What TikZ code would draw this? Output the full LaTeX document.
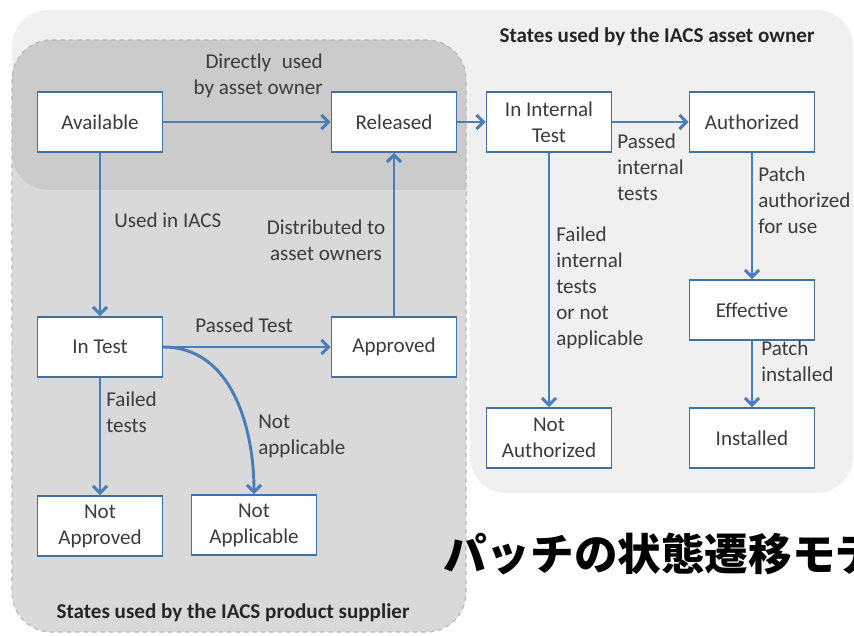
\documentclass[tikz,border=0pt]{standalone}
\usepackage{fontspec}
\setmainfont{Carlito}
\newfontfamily\jpfont{Noto Sans CJK JP}
\usepackage{tikz}
\usetikzlibrary{arrows.meta}
\usetikzlibrary{positioning}
\definecolor{patchblue}{RGB}{74,126,187}
\definecolor{boxblue}{RGB}{65,113,163}
\definecolor{patchtext}{RGB}{60,60,60}
\definecolor{ownergrey}{RGB}{240,240,240}
\definecolor{suppliergrey}{RGB}{217,217,217}
\definecolor{overlapgrey}{RGB}{203,203,203}
\definecolor{edgegrey}{RGB}{185,185,185}
\tikzset{
  statebox/.style={draw=boxblue, fill=white, line width=1.3pt, minimum width=3.125cm,
    minimum height=1.5cm, align=center, inner sep=2pt, text=patchtext,
    font=\fontsize{15}{18.4}\selectfont},
  flow/.style={draw=patchblue, line width=2.1pt, -{Straight Barb[length=5pt,width=10pt]}},
  lbl/.style={text=patchtext, inner sep=0pt, align=left, font=\fontsize{15}{18.4}\selectfont},
  regiontitle/.style={text=black!85, inner sep=0pt, font=\fontsize{15}{18}\selectfont\bfseries}
}

\begin{document}
\begin{tikzpicture}[x=0.025cm, y=-0.025cm]
  \useasboundingbox (0,0) rectangle (854,636);

  % asset owner and supplier regions
  \fill[ownergrey, rounded corners=26]
    (12,10) -- (853,10) -- (853,493) -- (470,493) -- (470,190) [sharp corners] -- (12,190)
    [rounded corners=26] -- cycle;
  \fill[suppliergrey, rounded corners=28] (12,40) rectangle (466,632);
  \begin{scope}
    \clip[rounded corners=28] (12,40) rectangle (466,632);
    \fill[overlapgrey, rounded corners=26] (12,0) rectangle (520,190);
  \end{scope}
  \draw[draw=edgegrey, dashed, line width=0.8pt, rounded corners=28] (12,40) rectangle (466,632);
  \node[regiontitle] (ownertitle) at (657,37) {States used by the IACS asset owner};
  \node[regiontitle] (suppliertitle) at (233,613) {States used by the IACS product supplier};

  % states
  \node[statebox] (avail) at (100,122) {Available};
  \node[statebox] (released) at (394,122) {Released};
  \node[statebox] (intest) at (100,347) {In Test};
  \node[statebox] (approved) at (394,347) {Approved};
  \node[statebox] (notapproved) at (100,526) {Not\\Approved};
  \node[statebox] (notapplic) at (254,525) {Not\\Applicable};
  \node[statebox] (internal) at (549,122) {In Internal\\Test};
  \node[statebox] (authz) at (752,122) {Authorized};
  \node[statebox] (effective) at (752,310) {Effective};
  \node[statebox] (installed) at (752,438) {Installed};
  \node[statebox] (notauthz) at (549,438) {Not\\Authorized};

  % transitions
  \draw[flow] (avail) -- (released);
  \draw[flow] (released) -- (internal);
  \draw[flow] (internal) -- (authz);
  \draw[flow] (authz) -- (effective);
  \draw[flow] (effective) -- (installed);
  \draw[flow] (internal) -- (notauthz);
  \draw[flow] (avail) -- (intest);
  \draw[flow] (approved) -- (released);
  \draw[flow] (intest) -- (approved);
  \draw[flow] (intest) -- (notapproved);
  \draw[flow] (intest.east) to[out=0, in=90] (notapplic.north);

  % labels
  \node[lbl, align=right, anchor=east] (directlbl) at (323,76) {Directly\enspace used\\by asset owner};
  \node[lbl, anchor=west] (usedlbl) at (114,220) {Used in IACS};
  \node[lbl, align=center] (distlbl) at (326,240) {Distributed to\\asset owners};
  \node[lbl] (passedlbl) at (244,325) {Passed Test};
  \node[lbl, anchor=west] (failedlbl) at (106,412) {Failed\\tests};
  \node[lbl, anchor=west] (notapplbl) at (258,436) {Not\\applicable};
  \node[lbl, anchor=west] (intpasslbl) at (617,167) {Passed\\internal\\tests};
  \node[lbl, anchor=west] (authlbl) at (758,200) {Patch\\authorized\\for use};
  \node[lbl, anchor=west] (intfaillbl) at (556,288) {Failed\\internal\\tests\\or not\\applicable};
  \node[lbl, anchor=west] (instlbl) at (761,361) {Patch\\installed};

  \node[anchor=base west, inner sep=0pt, font=\jpfont\bfseries\fontsize{31}{31}\selectfont]
    (jptitle) at (443,570) {パッチの状態遷移モデル};
\end{tikzpicture}
\end{document}
